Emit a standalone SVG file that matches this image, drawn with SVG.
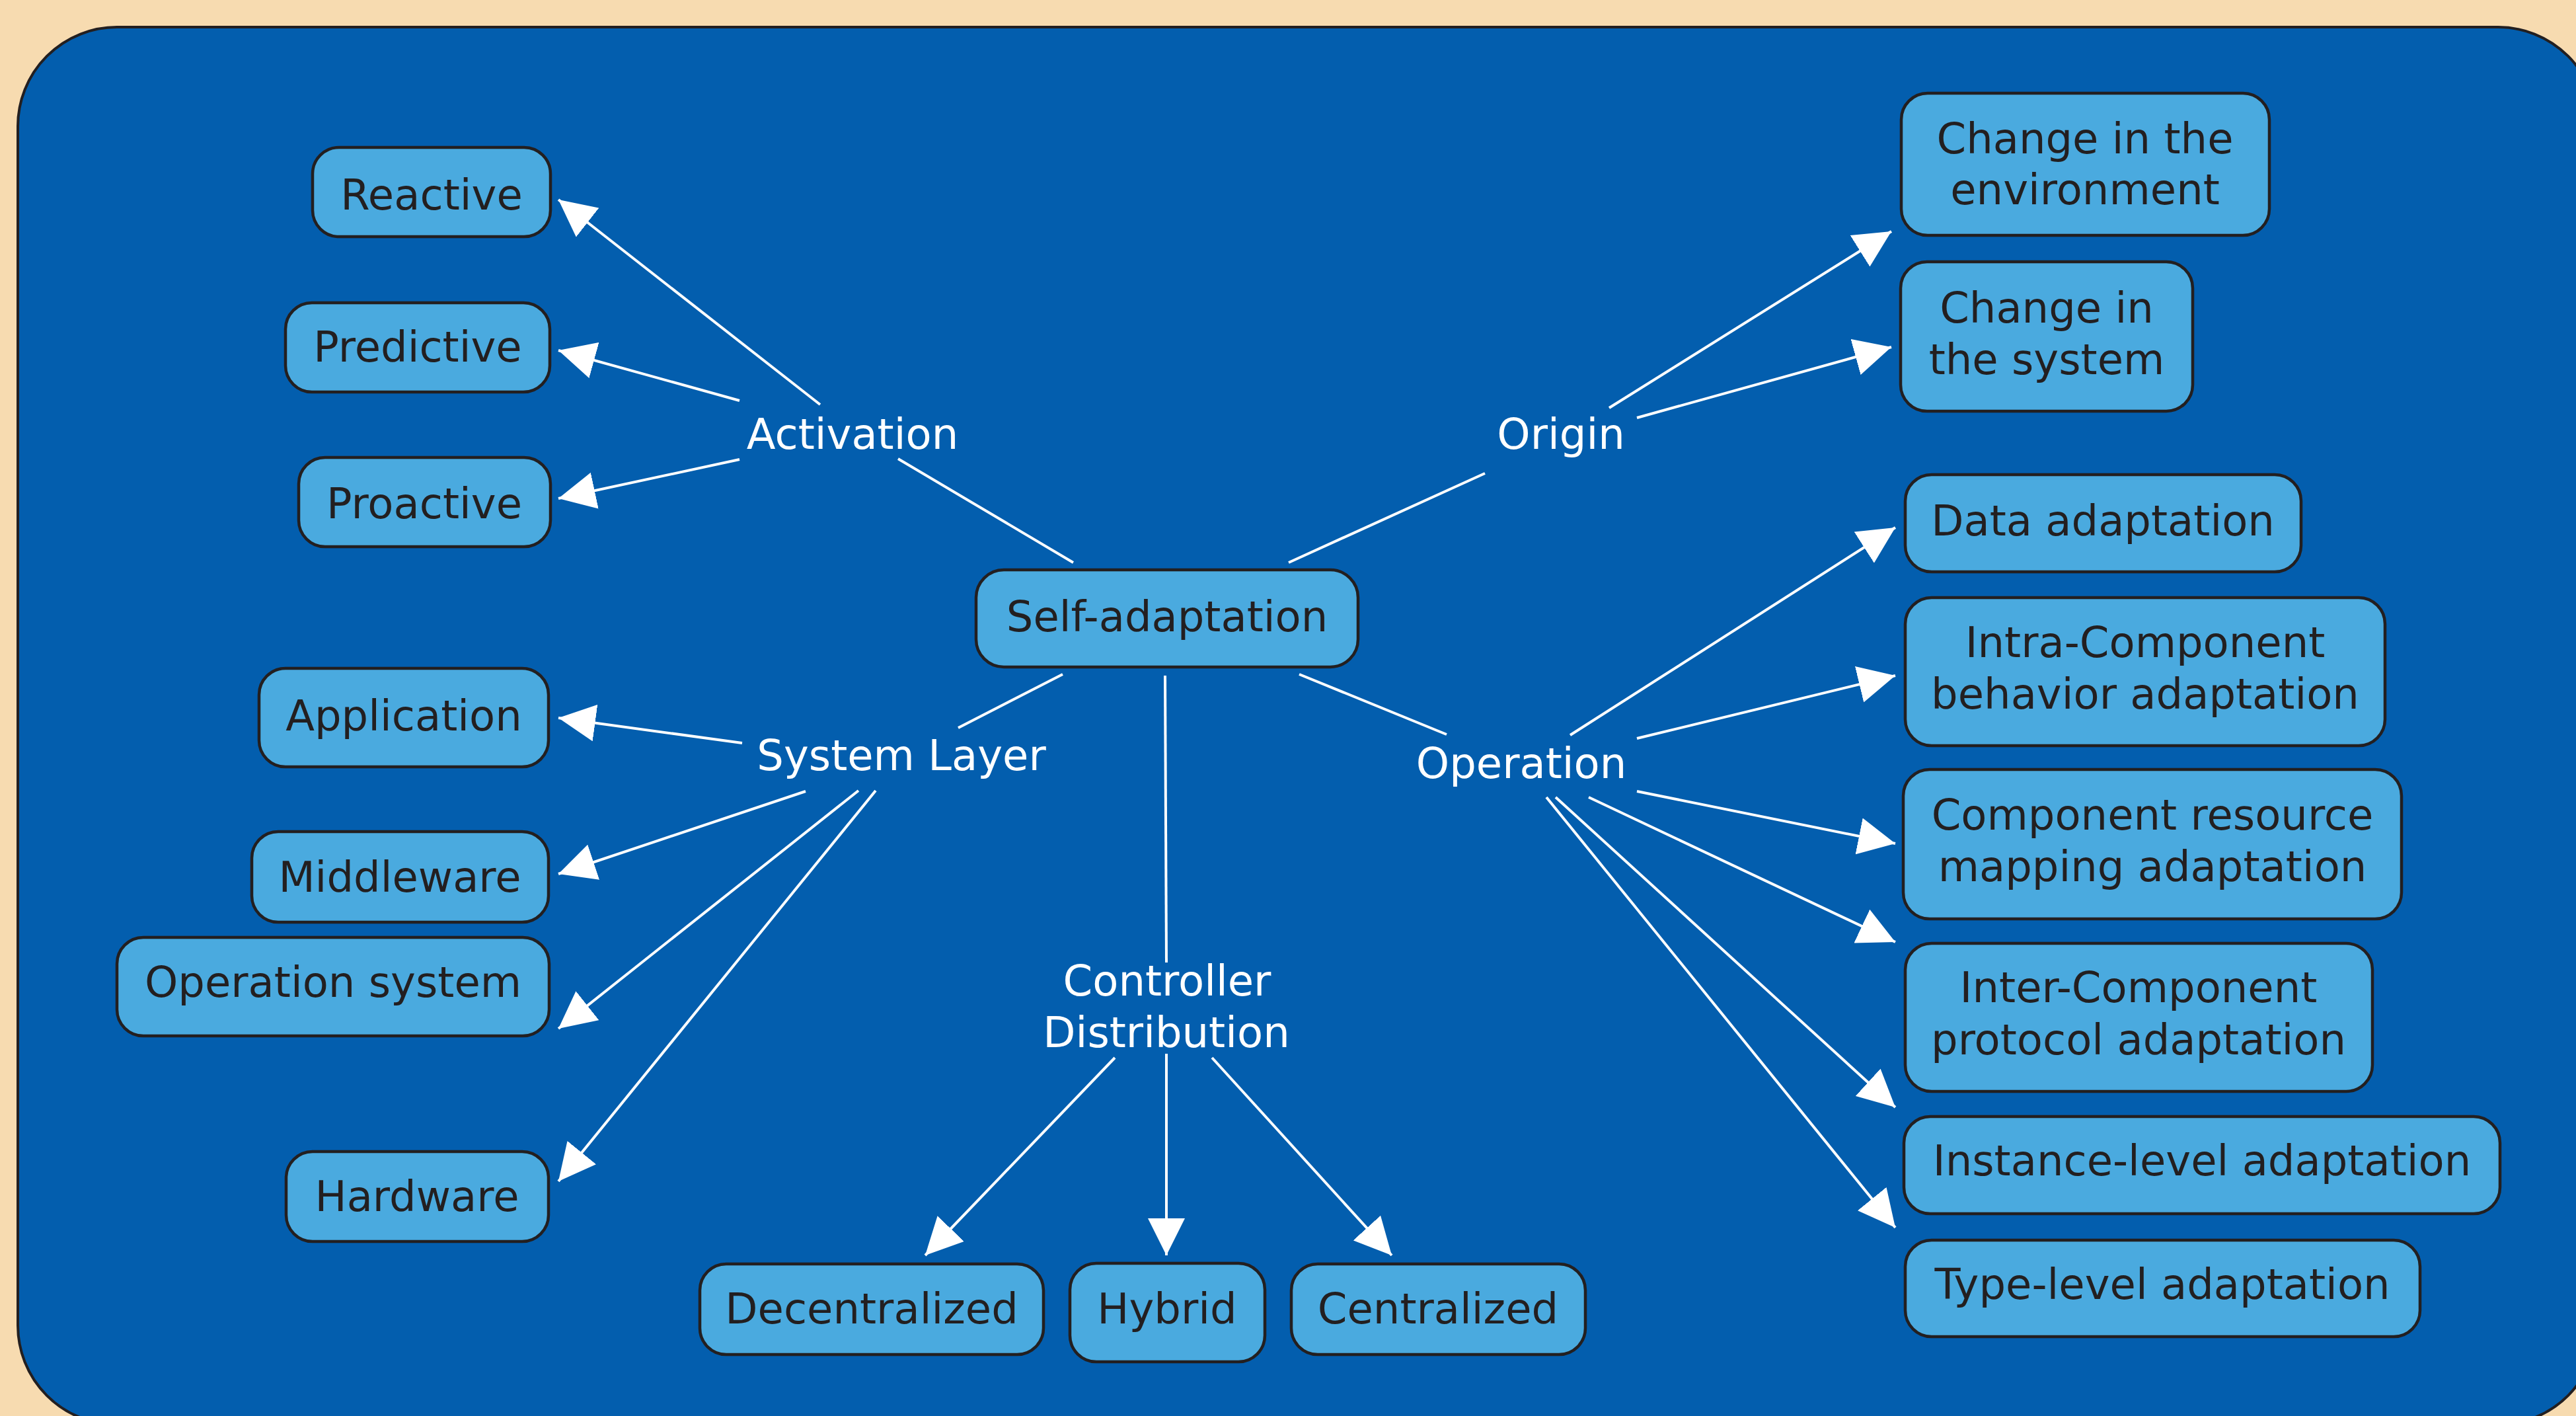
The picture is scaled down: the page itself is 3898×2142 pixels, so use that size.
<svg xmlns="http://www.w3.org/2000/svg" width="3898" height="2142" viewBox="0 0 3898 2142">
<style>
.node rect{fill:#4aaadf;stroke:#231f20;stroke-width:4.5}
.node text{font-family:"DejaVu Sans","Liberation Sans",sans-serif;font-size:64px;fill:#231f20;text-anchor:middle}
.label text{font-family:"DejaVu Sans","Liberation Sans",sans-serif;font-size:64px;fill:#ffffff;text-anchor:middle}
#connectors line{stroke:#ffffff;stroke-width:4;fill:none}
#connectors line.arrow{marker-end:url(#ah)}
</style>
<defs>
<marker id="ah" markerUnits="userSpaceOnUse" viewBox="0 0 56 56" markerWidth="56" markerHeight="56" refX="56" refY="28" orient="auto">
<path d="M0,0 L56,28 L0,56 z" fill="#ffffff"/>
</marker>
</defs>
<rect x="0" y="0" width="3898" height="2142" fill="#f7dbb0"/>
<rect x="27" y="41" width="3903" height="2114" rx="150" ry="150" fill="#035eae" stroke="#231f20" stroke-width="4"/>

<g id="connectors">
<line x1="1624" y1="851" x2="1359" y2="694"/>
<line x1="1950" y1="851" x2="2247" y2="716"/>
<line x1="1608" y1="1020" x2="1450" y2="1101"/>
<line x1="1763" y1="1022" x2="1765" y2="1456"/>
<line x1="1966" y1="1020" x2="2189" y2="1111"/>
<line class="arrow" x1="1241" y1="612" x2="845" y2="302"/>
<line class="arrow" x1="1119" y1="606" x2="845" y2="530"/>
<line class="arrow" x1="1119" y1="695" x2="845" y2="754"/>
<line class="arrow" x1="2435" y1="617" x2="2862" y2="350"/>
<line class="arrow" x1="2477" y1="632" x2="2862" y2="525"/>
<line class="arrow" x1="1123" y1="1124" x2="845" y2="1086"/>
<line class="arrow" x1="1219" y1="1197" x2="845" y2="1322"/>
<line class="arrow" x1="1299" y1="1196" x2="845" y2="1556"/>
<line class="arrow" x1="1325" y1="1196" x2="845" y2="1787"/>
<line class="arrow" x1="1687" y1="1600" x2="1400" y2="1899"/>
<line class="arrow" x1="1765" y1="1594" x2="1765" y2="1899"/>
<line class="arrow" x1="1834" y1="1600" x2="2106" y2="1899"/>
<line class="arrow" x1="2376" y1="1112" x2="2868" y2="798"/>
<line class="arrow" x1="2477" y1="1117" x2="2868" y2="1022"/>
<line class="arrow" x1="2477" y1="1197" x2="2868" y2="1276"/>
<line class="arrow" x1="2404" y1="1206" x2="2868" y2="1425"/>
<line class="arrow" x1="2354" y1="1206" x2="2868" y2="1675"/>
<line class="arrow" x1="2340" y1="1206" x2="2868" y2="1857"/>
</g>

<g id="self-adaptation" class="node"><rect x="1477" y="862" width="578" height="147" rx="42"/><text x="1766" y="955">Self-adaptation</text></g>

<g id="activation" class="label"><text x="1290" y="679">Activation</text></g>
<g id="origin" class="label"><text x="2362" y="679">Origin</text></g>
<g id="system-layer" class="label"><text x="1364" y="1165">System Layer</text></g>
<g id="operation" class="label"><text x="2302" y="1177">Operation</text></g>
<g id="controller-distribution" class="label"><text x="1766" y="1506">Controller</text><text x="1765" y="1584">Distribution</text></g>

<g id="reactive" class="node"><rect x="473" y="223" width="360" height="135" rx="40"/><text x="653" y="317">Reactive</text></g>
<g id="predictive" class="node"><rect x="432" y="458" width="400" height="135" rx="40"/><text x="632" y="547">Predictive</text></g>
<g id="proactive" class="node"><rect x="452" y="692" width="381" height="135" rx="40"/><text x="642" y="784">Proactive</text></g>

<g id="application" class="node"><rect x="392" y="1011" width="438" height="149" rx="40"/><text x="611" y="1105">Application</text></g>
<g id="middleware" class="node"><rect x="381" y="1258" width="449" height="137" rx="40"/><text x="605" y="1349">Middleware</text></g>
<g id="operation-system" class="node"><rect x="177" y="1418" width="654" height="149" rx="40"/><text x="504" y="1508">Operation system</text></g>
<g id="hardware" class="node"><rect x="433" y="1742" width="397" height="136" rx="40"/><text x="631" y="1832">Hardware</text></g>

<g id="decentralized" class="node"><rect x="1059" y="1912" width="520" height="137" rx="40"/><text x="1319" y="2002">Decentralized</text></g>
<g id="hybrid" class="node"><rect x="1619" y="1911" width="295" height="149" rx="40"/><text x="1766" y="2002">Hybrid</text></g>
<g id="centralized" class="node"><rect x="1954" y="1912" width="445" height="137" rx="40"/><text x="2176" y="2002">Centralized</text></g>

<g id="change-environment" class="node"><rect x="2877" y="141" width="557" height="215" rx="40"/><text x="3155" y="232">Change in the</text><text x="3155" y="309">environment</text></g>
<g id="change-system" class="node"><rect x="2876" y="396" width="442" height="226" rx="40"/><text x="3097" y="488">Change in</text><text x="3097" y="566">the system</text></g>

<g id="data-adaptation" class="node"><rect x="2883" y="718" width="599" height="147" rx="40"/><text x="3182" y="810">Data adaptation</text></g>
<g id="intra-component" class="node"><rect x="2883" y="904" width="726" height="224" rx="40"/><text x="3246" y="994">Intra-Component</text><text x="3246" y="1072">behavior adaptation</text></g>
<g id="component-resource" class="node"><rect x="2880" y="1164" width="754" height="226" rx="40"/><text x="3257" y="1255">Component resource</text><text x="3257" y="1333">mapping adaptation</text></g>
<g id="inter-component" class="node"><rect x="2883" y="1427" width="707" height="224" rx="40"/><text x="3236" y="1516">Inter-Component</text><text x="3236" y="1595">protocol adaptation</text></g>
<g id="instance-level" class="node"><rect x="2881" y="1689" width="902" height="147" rx="40"/><text x="3332" y="1778">Instance-level adaptation</text></g>
<g id="type-level" class="node"><rect x="2883" y="1876" width="779" height="146" rx="40"/><text x="3272" y="1965">Type-level adaptation</text></g>
</svg>
